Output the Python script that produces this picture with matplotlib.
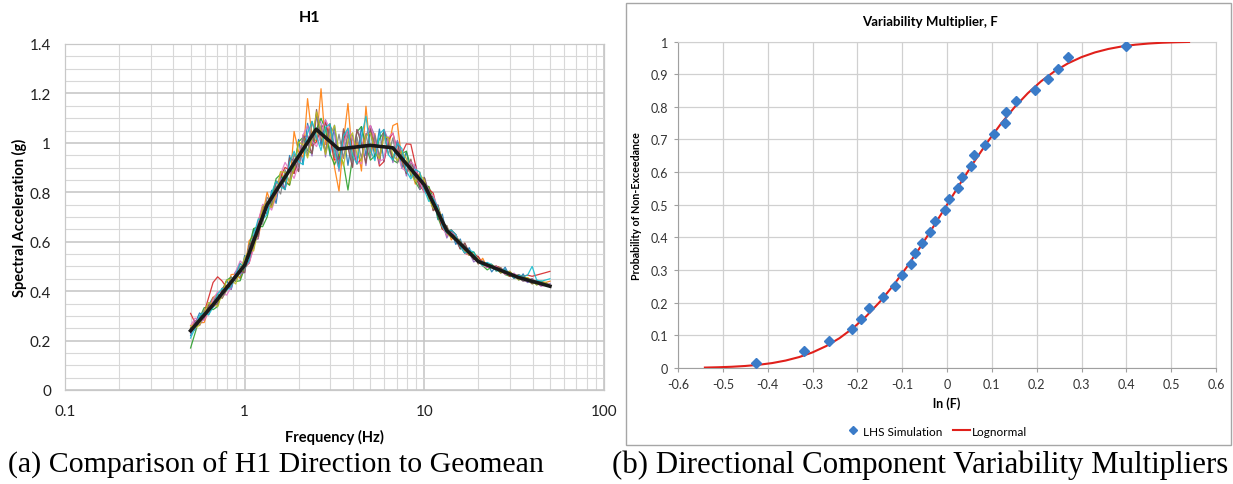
import matplotlib
matplotlib.use("Agg")
import matplotlib.pyplot as plt
from matplotlib.patches import Rectangle
from matplotlib.lines import Line2D
from matplotlib.ticker import FixedLocator, NullFormatter

# ---------------- data: (a) H1 spectra ----------------
h1_freq = [0.500, 0.530, 0.561, 0.595, 0.630, 0.667, 0.707, 0.749, 0.794, 0.841,
           0.891, 0.944, 1.000, 1.059, 1.122, 1.189, 1.259, 1.334, 1.413, 1.496,
           1.585, 1.679, 1.778, 1.884, 1.995, 2.113, 2.239, 2.371, 2.512, 2.661,
           2.818, 2.985, 3.162, 3.350, 3.548, 3.758, 3.981, 4.217, 4.467, 4.732,
           5.012, 5.309, 5.623, 5.957, 6.310, 6.683, 7.079, 7.499, 7.943, 8.414,
           8.913, 9.441, 10.00, 10.59, 11.22, 11.89, 12.59, 13.34, 14.13, 14.96,
           15.85, 16.79, 17.78, 18.84, 19.95, 21.13, 22.39, 23.71, 25.12, 26.61,
           28.18, 29.85, 31.62, 33.50, 35.48, 37.58, 39.81, 42.17, 44.67, 47.32, 50.0]

run_01 = [.220, .271, .312, .293, .344, .375, .348, .401, .444, .407,
          .479, .452, .545, .514, .653, .622, .741, .710, .808, .755,
          .873, .811, .949, .876, 1.014, .912, 1.079, .997, 1.115, .989,
          1.093, .947, 1.071, .925, 1.037, .909, 1.031, .924, 1.066, .948,
          1.050, .938, 1.056, .924, 1.022, .930, 1.009, .897, .966, .864,
          .913, .821, .860, .773, .786, .689, .712, .625, .647, .589,
          .611, .554, .576, .528, .540, .503, .516, .478, .501, .474,
          .497, .460, .472, .445, .470, .435, .450, .425, .440, .425, .430]
run_02 = [.250, .281, .272, .273, .324, .375, .388, .371, .404, .467,
          .469, .452, .495, .604, .623, .612, .711, .800, .748, .785,
          .883, .851, .829, 1.046, .964, .942, 1.179, 1.027, 1.005, 1.219,
          .993, 1.077, .901, .805, 1.007, 1.159, .941, 1.004, .886, 1.148,
          .960, 1.038, .926, 1.054, .982, 1.070, 1.079, .927, .876, .904,
          .833, .881, .810, .823, .726, .739, .652, .665, .607, .629,
          .571, .594, .546, .558, .510, .533, .496, .508, .481, .494,
          .467, .480, .452, .465, .450, .455, .430, .435, .440, .435, .440]
run_03 = [.170, .231, .292, .333, .334, .325, .338, .401, .444, .457,
          .439, .442, .495, .584, .653, .662, .661, .700, .778, .855,
          .873, .841, .829, .906, 1.004, 1.022, .969, .957, 1.055, 1.099,
          1.053, .957, .911, .955, .917, .809, .941, 1.044, 1.066, .988,
          .930, .948, 1.016, 1.044, 1.002, .930, .919, .957, .966, .904,
          .843, .811, .830, .823, .776, .699, .652, .645, .647, .629,
          .581, .554, .556, .558, .530, .503, .486, .498, .501, .494,
          .467, .460, .462, .465, .460, .445, .430, .435, .440, .425, .420]
run_04 = [.310, .271, .262, .313, .374, .435, .458, .441, .414, .417,
          .469, .512, .495, .514, .583, .682, .741, .750, .738, .785,
          .863, .901, .889, .876, .934, 1.022, 1.029, .987, 1.005, 1.059,
          1.083, 1.017, .931, .935, 1.017, 1.049, .981, .914, .936, 1.028,
          1.070, .998, .906, .924, 1.012, 1.040, .969, .957, .996, .994,
          .913, .831, .800, .813, .796, .719, .652, .635, .647, .629,
          .591, .554, .546, .548, .540, .513, .496, .498, .501, .494,
          .477, .460, .462, .465, .460, .465, .460, .465, .470, .475, .480]
run_05 = [.230, .281, .262, .293, .344, .335, .348, .411, .414, .407,
          .479, .472, .475, .584, .603, .612, .741, .760, .738, .835,
          .853, .811, .929, .936, .884, 1.022, 1.029, .947, 1.115, 1.079,
          .943, 1.067, 1.041, .885, 1.047, 1.019, .901, 1.054, 1.016, .908,
          1.070, 1.028, .916, 1.054, 1.012, .920, 1.009, .957, .866, .924,
          .893, .811, .860, .803, .726, .749, .682, .615, .647, .609,
          .571, .594, .556, .518, .530, .513, .496, .508, .491, .474,
          .487, .470, .452, .465, .450, .435, .450, .435, .420, .435, .420]
run_06 = [.250, .251, .292, .283, .344, .345, .348, .411, .424, .417,
          .479, .482, .475, .584, .613, .622, .741, .740, .748, .845,
          .833, .811, .939, .926, .884, 1.032, .999, .957, 1.135, 1.019,
          .963, 1.077, .981, .905, 1.057, .979, .901, 1.054, .996, .918,
          1.060, .968, .926, 1.044, .992, .930, .999, .927, .876, .934,
          .863, .821, .860, .793, .726, .749, .682, .625, .647, .609,
          .571, .594, .556, .528, .530, .513, .496, .508, .491, .474,
          .487, .470, .452, .465, .450, .445, .430, .445, .430, .425, .420]
run_07 = [.260, .291, .282, .283, .314, .365, .398, .391, .384, .417,
          .479, .522, .505, .514, .573, .682, .751, .750, .728, .785,
          .873, .921, .889, .856, .914, 1.032, 1.069, 1.007, .985, 1.039,
          1.093, 1.057, .951, .895, .987, 1.059, 1.021, .924, .916, 1.018,
          1.070, 1.008, .926, .934, 1.022, 1.040, .959, .897, .886, .924,
          .903, .841, .800, .793, .786, .739, .662, .625, .637, .629,
          .591, .554, .546, .548, .530, .503, .496, .498, .501, .484,
          .467, .470, .472, .455, .440, .445, .450, .435, .420, .425, .430]
run_08 = [.250, .241, .292, .323, .304, .355, .388, .371, .404, .457,
          .439, .502, .485, .584, .573, .672, .671, .780, .758, .825,
          .793, .891, .839, .956, .904, 1.022, .949, 1.087, 1.015, 1.069,
          .963, 1.057, .941, 1.035, .937, 1.039, .921, 1.024, .936, 1.038,
          .940, 1.028, .946, 1.034, .952, 1.020, .919, .967, .886, .914,
          .843, .871, .810, .813, .736, .739, .672, .665, .617, .619,
          .581, .584, .546, .548, .510, .523, .506, .508, .491, .494,
          .477, .480, .462, .455, .440, .445, .450, .435, .430, .435, .420]
run_09 = [.260, .251, .262, .313, .354, .345, .338, .391, .444, .447,
          .429, .482, .535, .564, .563, .652, .741, .760, .738, .795,
          .883, .881, .839, .896, 1.004, .992, .939, 1.017, 1.125, 1.049,
          .953, 1.027, 1.071, .965, .907, 1.009, 1.041, .954, .926, 1.028,
          1.040, .968, .936, 1.024, 1.022, .950, .929, .967, .936, .874,
          .843, .871, .850, .773, .736, .739, .692, .635, .617, .619,
          .601, .564, .546, .548, .530, .503, .506, .508, .491, .474,
          .477, .480, .462, .445, .450, .455, .440, .425, .430, .435, .420]
run_10 = [.210, .251, .302, .313, .304, .335, .388, .411, .404, .417,
          .469, .512, .495, .524, .623, .692, .691, .710, .798, .845,
          .823, .811, .919, .966, .924, .912, 1.039, 1.087, 1.025, .969,
          1.063, 1.077, .971, .895, 1.027, 1.059, .951, .914, 1.026, 1.108,
          .970, .928, 1.036, 1.054, .952, .930, .999, .977, .886, .854,
          .893, .881, .810, .763, .776, .739, .662, .635, .647, .629,
          .581, .554, .566, .558, .520, .503, .516, .508, .481, .484,
          .487, .470, .452, .465, .460, .465, .500, .445, .440, .445, .450]

geomean_freq = [0.5, 0.667, 1.0, 1.334, 2.5, 3.33, 5.0, 6.67, 10.0, 13.34, 20.0, 33.5, 50.0]
geomean_sa = [0.240, 0.345, 0.505, 0.750, 1.055, 0.975, 0.990, 0.980, 0.830, 0.645, 0.520, 0.455, 0.420]

run_colors = ["#1f77b4", "#ff7f0e", "#2ca02c", "#d62728", "#9467bd",
              "#8c564b", "#e377c2", "#7f7f7f", "#bcbd22", "#17becf"]

# ---------------- data: (b) variability multiplier ----------------
lhs_lnF = [-0.427, -0.318, -0.264, -0.211, -0.192, -0.175, -0.143, -0.116, -0.101, -0.080,
           -0.071, -0.055, -0.039, -0.027, -0.004, 0.004, 0.024, 0.034, 0.054, 0.060,
           0.085, 0.104, 0.129, 0.131, 0.155, 0.196, 0.225, 0.247, 0.269, 0.399]
lhs_prob = [0.016, 0.051, 0.084, 0.118, 0.150, 0.185, 0.218, 0.252, 0.284, 0.317,
            0.351, 0.383, 0.418, 0.451, 0.484, 0.517, 0.550, 0.584, 0.618, 0.651,
            0.684, 0.718, 0.751, 0.783, 0.818, 0.851, 0.884, 0.917, 0.951, 0.985]

logn_lnF = [-0.54, -0.51, -0.48, -0.45, -0.42, -0.39, -0.36, -0.33, -0.30, -0.27,
            -0.24, -0.21, -0.18, -0.15, -0.12, -0.09, -0.06, -0.03, 0.00, 0.03,
            0.06, 0.09, 0.12, 0.15, 0.18, 0.21, 0.24, 0.27, 0.30, 0.33,
            0.36, 0.39, 0.42, 0.45, 0.48, 0.51, 0.54]
logn_prob = [0.0013, 0.0023, 0.0038, 0.0062, 0.0098, 0.0151, 0.0228, 0.0334, 0.0478, 0.0668,
             0.0912, 0.1217, 0.1587, 0.2023, 0.2525, 0.3085, 0.3694, 0.4338, 0.5000, 0.5662,
             0.6306, 0.6915, 0.7475, 0.7977, 0.8413, 0.8783, 0.9088, 0.9332, 0.9522, 0.9666,
             0.9772, 0.9849, 0.9902, 0.9938, 0.9962, 0.9977, 0.9987]

# ---------------- figure ----------------
plt.rcParams["font.family"] = ["Lato", "DejaVu Sans"]
W, H = 1233, 485
fig = plt.figure(figsize=(W / 100, H / 100), dpi=100)
fig.patch.set_facecolor("white")


def fx(px):
    return px / W


def fy(py):
    return 1 - py / H


# ----- left chart -----
axL = fig.add_axes([fx(65), fy(391), fx(604) - fx(65), fy(45) - fy(391)])
axL.set_xscale("log")
axL.set_xlim(0.1, 100)
axL.set_ylim(0, 1.4)
axL.set_xticks([0.1, 1, 10, 100])
axL.set_xticklabels(["0.1", "1", "10", "100"])
axL.xaxis.set_minor_locator(FixedLocator([m * d for d in (0.1, 1, 10) for m in range(2, 10)]))
axL.xaxis.set_minor_formatter(NullFormatter())
axL.set_yticks([0, 0.2, 0.4, 0.6, 0.8, 1.0, 1.2, 1.4])
axL.set_yticklabels(["0", "0.2", "0.4", "0.6", "0.8", "1", "1.2", "1.4"])
axL.yaxis.set_minor_locator(FixedLocator([i * 0.05 for i in range(29)]))
axL.grid(True, which="major", color="#c4c4c4", lw=1.1)
axL.grid(True, which="minor", color="#d8d8d8", lw=0.8)
axL.set_axisbelow(True)
axL.tick_params(which="both", length=0, labelsize=11, colors="#222222")
axL.tick_params(axis="x", pad=10)
axL.tick_params(axis="y", pad=10)
for s in axL.spines.values():
    s.set_color("#c8c8c8")
    s.set_linewidth(0.9)

runs = [run_01, run_02, run_03, run_04, run_05, run_06, run_07, run_08, run_09, run_10]
for r, c in zip(runs, run_colors):
    axL.plot(h1_freq, r, color=c, lw=0.9, alpha=0.9)
axL.plot(geomean_freq, geomean_sa, color="#1a1a1a", lw=2.6, solid_joinstyle="round")

axL.text(fx(310), fy(18), "H1", transform=fig.transFigure, fontsize=11.5,
         fontweight="bold", ha="center", va="center")
axL.set_xlabel("Frequency (Hz)", fontsize=10.5, fontweight="bold", labelpad=8)
axL.set_ylabel("Spectral Acceleration (g)", fontsize=10.5, fontweight="bold", labelpad=2)

# ----- right chart -----
fig.add_artist(Rectangle((fx(626), fy(446)), fx(1231) - fx(626), fy(4) - fy(446),
                         transform=fig.transFigure, fill=False, edgecolor="#a6a6a6", lw=1.0))

axR = fig.add_axes([fx(678), fy(369), fx(1216) - fx(678), fy(42.5) - fy(369)])
axR.set_xlim(-0.6, 0.6)
axR.set_ylim(0, 1)
xt = [-0.6, -0.5, -0.4, -0.3, -0.2, -0.1, 0, 0.1, 0.2, 0.3, 0.4, 0.5, 0.6]
axR.set_xticks(xt)
axR.set_xticklabels(["-0.6", "-0.5", "-0.4", "-0.3", "-0.2", "-0.1", "0",
                     "0.1", "0.2", "0.3", "0.4", "0.5", "0.6"])
yt = [0, 0.1, 0.2, 0.3, 0.4, 0.5, 0.6, 0.7, 0.8, 0.9, 1.0]
axR.set_yticks(yt)
axR.set_yticklabels(["0", "0.1", "0.2", "0.3", "0.4", "0.5", "0.6", "0.7", "0.8", "0.9", "1"])
axR.grid(True, color="#d0d0d0", lw=0.9)
axR.set_axisbelow(True)
axR.tick_params(length=3, color="#a0a0a0", labelsize=9, labelcolor="#333333", pad=4)
for s in axR.spines.values():
    s.set_color("#d0d0d0")
axR.spines["left"].set_color("#a0a0a0")
axR.spines["bottom"].set_color("#a0a0a0")

axR.plot(logn_lnF, logn_prob, color="#e0201b", lw=1.5, zorder=3)
axR.plot(lhs_lnF, lhs_prob, linestyle="none", marker="D", markersize=5.5,
         color="#3a7bc8", zorder=4)

axR.text(fx(930), fy(22), "Variability Multiplier, F", transform=fig.transFigure,
         fontsize=9.5, fontweight="bold", ha="center", va="center")
axR.set_xlabel("ln (F)", fontsize=9, fontweight="bold", labelpad=5)
axR.set_ylabel("Probability of Non-Exceedance", fontsize=7.7, fontweight="bold", labelpad=6)

handles = [Line2D([], [], linestyle="none", marker="D", markersize=4, color="#3a7bc8"),
           Line2D([], [], color="#e0201b", lw=1.5)]
fig.legend(handles, ["LHS Simulation", "Lognormal"], loc="center",
           bbox_to_anchor=(fx(936), fy(432)), ncol=2, frameon=False, fontsize=8.5,
           handlelength=1.4, columnspacing=0.9, handletextpad=0.15)

# ----- captions -----
serif = ["Liberation Serif", "DejaVu Serif"]
fig.text(fx(8), fy(465), "(a) Comparison of H1 Direction to Geomean", fontsize=21.5,
         family=serif, va="center", ha="left")
fig.text(fx(612), fy(465), "(b) Directional Component Variability Multipliers", fontsize=22.2,
         family=serif, va="center", ha="left")

fig.savefig("out.png", dpi=100)
